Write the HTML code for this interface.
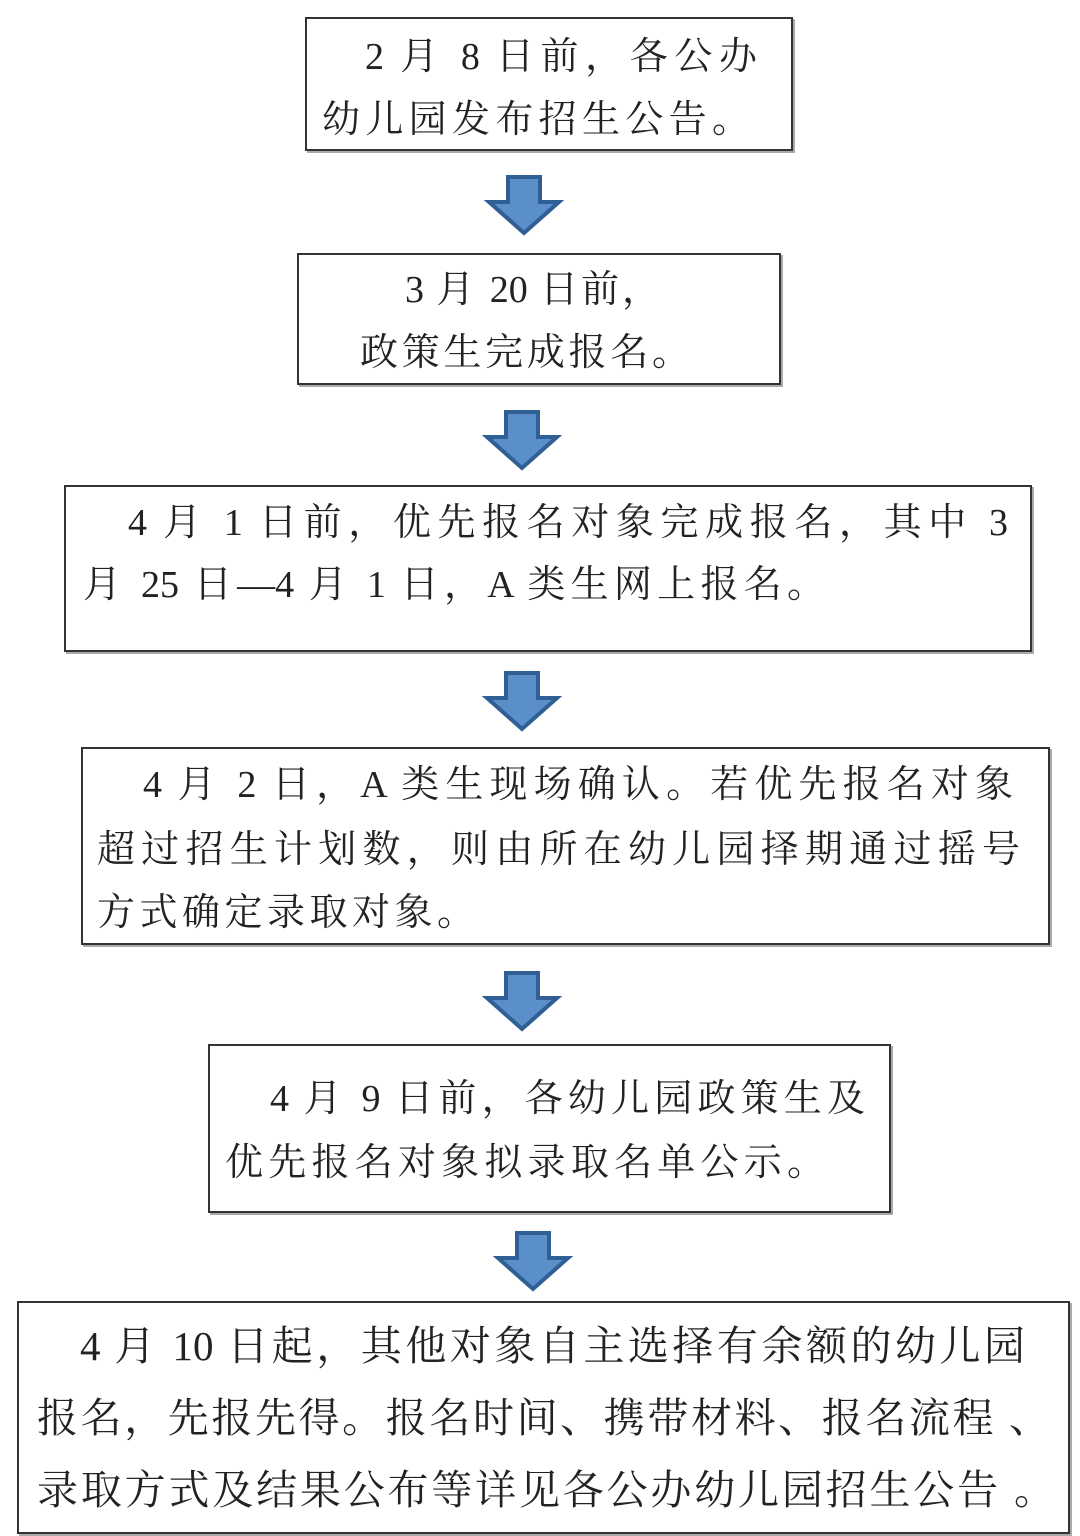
<!DOCTYPE html>
<html><head><meta charset="utf-8"><style>
body{margin:0;width:1080px;height:1536px;background:#fff;position:relative;overflow:hidden}
.b{position:absolute;border:2px solid #333;box-shadow:2px 2px 0 #aaa;box-sizing:border-box}
.l{position:absolute;font-family:"Liberation Serif","Noto Serif CJK SC",serif;color:#222;font-size:38px;line-height:46px;height:46px;text-align:justify;text-align-last:justify;white-space:nowrap;overflow:visible}
.f{font-size:41px}
svg{position:absolute}
</style></head><body>
<div class="b" style="left:305px;top:17px;width:488px;height:134px"></div>
<div class="b" style="left:297px;top:253px;width:484px;height:132px"></div>
<div class="b" style="left:64px;top:485px;width:968px;height:167px"></div>
<div class="b" style="left:81px;top:747px;width:969px;height:198px"></div>
<div class="b" style="left:208px;top:1044px;width:683px;height:169px"></div>
<div class="b" style="left:17px;top:1301px;width:1053px;height:233px"></div>

<div class="l" style="left:365px;top:34px;width:392px">2 月 8 日前，各公办</div>
<div class="l" style="left:322px;top:97px;width:428px">幼儿园发布招生公告。</div>
<div class="l" style="left:405px;top:267px;width:255px">3 月 20 日前，</div>
<div class="l" style="left:360px;top:330px;width:330px">政策生完成报名。</div>
<div class="l" style="left:128px;top:500px;width:880px">4 月 1 日前，优先报名对象完成报名，其中 3</div>
<div class="l" style="left:83px;top:562px;width:742px">月 25 日—4 月 1 日，A 类生网上报名。</div>
<div class="l" style="left:143px;top:762px;width:870px">4 月 2 日，A 类生现场确认。若优先报名对象</div>
<div class="l" style="left:97px;top:827px;width:923px">超过招生计划数，则由所在幼儿园择期通过摇号</div>
<div class="l" style="left:97px;top:890px;width:378px">方式确定录取对象。</div>
<div class="l" style="left:270px;top:1076px;width:595px">4 月 9 日前，各幼儿园政策生及</div>
<div class="l" style="left:225px;top:1140px;width:600px">优先报名对象拟录取名单公示。</div>
<div class="l f" style="left:80px;top:1323px;width:945px">4 月 10 日起，其他对象自主选择有余额的幼儿园</div>
<div class="l f" style="left:37px;top:1395px;width:1013px">报名，先报先得。报名时间、携带材料、报名流程 、</div>
<div class="l f" style="left:37px;top:1467px;width:1018px">录取方式及结果公布等详见各公办幼儿园招生公告 。</div>

<svg width="1080" height="1536" style="left:0;top:0">
<defs><path id="a" d="M-16,0 H16 V25 H35 L0,56 L-35,25 H-16 Z" fill="#5b8fc9" stroke="#2f5f94" stroke-width="4" stroke-linejoin="miter"/></defs>
<use href="#a" x="524" y="177"/>
<use href="#a" x="522" y="412"/>
<use href="#a" x="522" y="673"/>
<use href="#a" x="522" y="973"/>
<use href="#a" x="533" y="1233"/>
</svg>
</body></html>
